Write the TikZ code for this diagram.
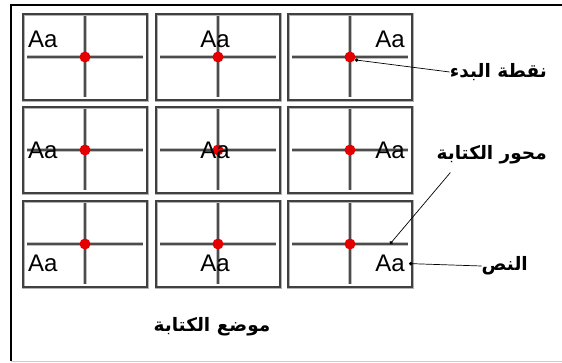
\documentclass[tikz,border=0pt]{standalone}
\usepackage{fontspec}
\setmainfont{Liberation Sans}
\newfontfamily\arabicfont[Script=Arabic]{DejaVu Sans}
\TeXXeTstate=1
\usetikzlibrary{arrows.meta,calc}

\tikzset{
  cellbox/.style={draw=black!75, line width=1.5pt, minimum width=124pt, minimum height=86pt, inner sep=0pt, preaction={draw=black!30, line width=3pt}},
  axisline/.style={draw=black!70, line width=2.2pt, preaction={draw=black!25, line width=3.2pt}},
  startdot/.style={circle, fill=red!90!black, inner sep=0pt, minimum size=11pt},
  sample/.style={inner sep=0pt, font=\fontsize{24}{24}\selectfont},
  arlabel/.style={inner sep=0pt, font=\arabicfont\bfseries\fontsize{18.5}{22}\selectfont},
  leader/.style={draw, line width=0.7pt, {Circle[length=3.5pt]}-},
}

\begin{document}
\begin{tikzpicture}[x=1pt, y=-1pt]
  \useasboundingbox (0,0) rectangle (562,362);
  % frame
  \path[draw, line width=1.5pt](562,5) -- (11,5) -- (11,361);
  \path[draw=black!20, line width=1pt](11,361) -- (562,361);
  % cells with axes and start point
  \foreach \r/\cy in {1/57,2/150,3/244}
    \foreach \c/\cx in {1/85,2/218,3/350}{
      \node[cellbox] (c\r\c) at (\cx,\cy) {};
      \path[axisline]($(c\r\c.west)+(5,0)$) -- ($(c\r\c.east)+(-5,0)$);
      \path[axisline]($(c\r\c.north)+(0,3)$) -- ($(c\r\c.south)+(0,-4)$);
      \node[startdot] (d\r\c) at (c\r\c.center) {};
    }
  % sample text
  \foreach \n/\a/\dx/\dy in {11/south west/-57/-9, 12/south/-3/-9, 13/south east/55/-9,
      21/west/-57/0, 22/center/-3/0, 23/east/55/0,
      31/north west/-57/11, 32/north/-3/11, 33/north east/55/11}
    \node[sample, anchor=\a] (t\n) at ($(c\n.center)+(\dx,\dy)$) {Aa};
  % labels
  \node[arlabel, anchor=east] (start) at (547,72) {\beginR نقطة البدء\endR};
  \node[arlabel, anchor=east] (axis) at (547,155) {\beginR محور الكتابة\endR};
  \node[arlabel, anchor=east] (txt) at (528,266) {\beginR النص\endR};
  \node[arlabel] (pos) at (212,327) {\beginR موضع الكتابة\endR};
  % leaders
  \coordinate (axpt) at ($(c33.center)+(40,0)$);
  \coordinate (axtop) at ($(axis.south west)+(14,8)$);
  \path[leader](d13.-30) -- (start.west);
  \path[leader](axpt) -- (axtop);
  \path[leader]([xshift=4pt]t33.east) -- (txt.west);
\end{tikzpicture}
\end{document}
